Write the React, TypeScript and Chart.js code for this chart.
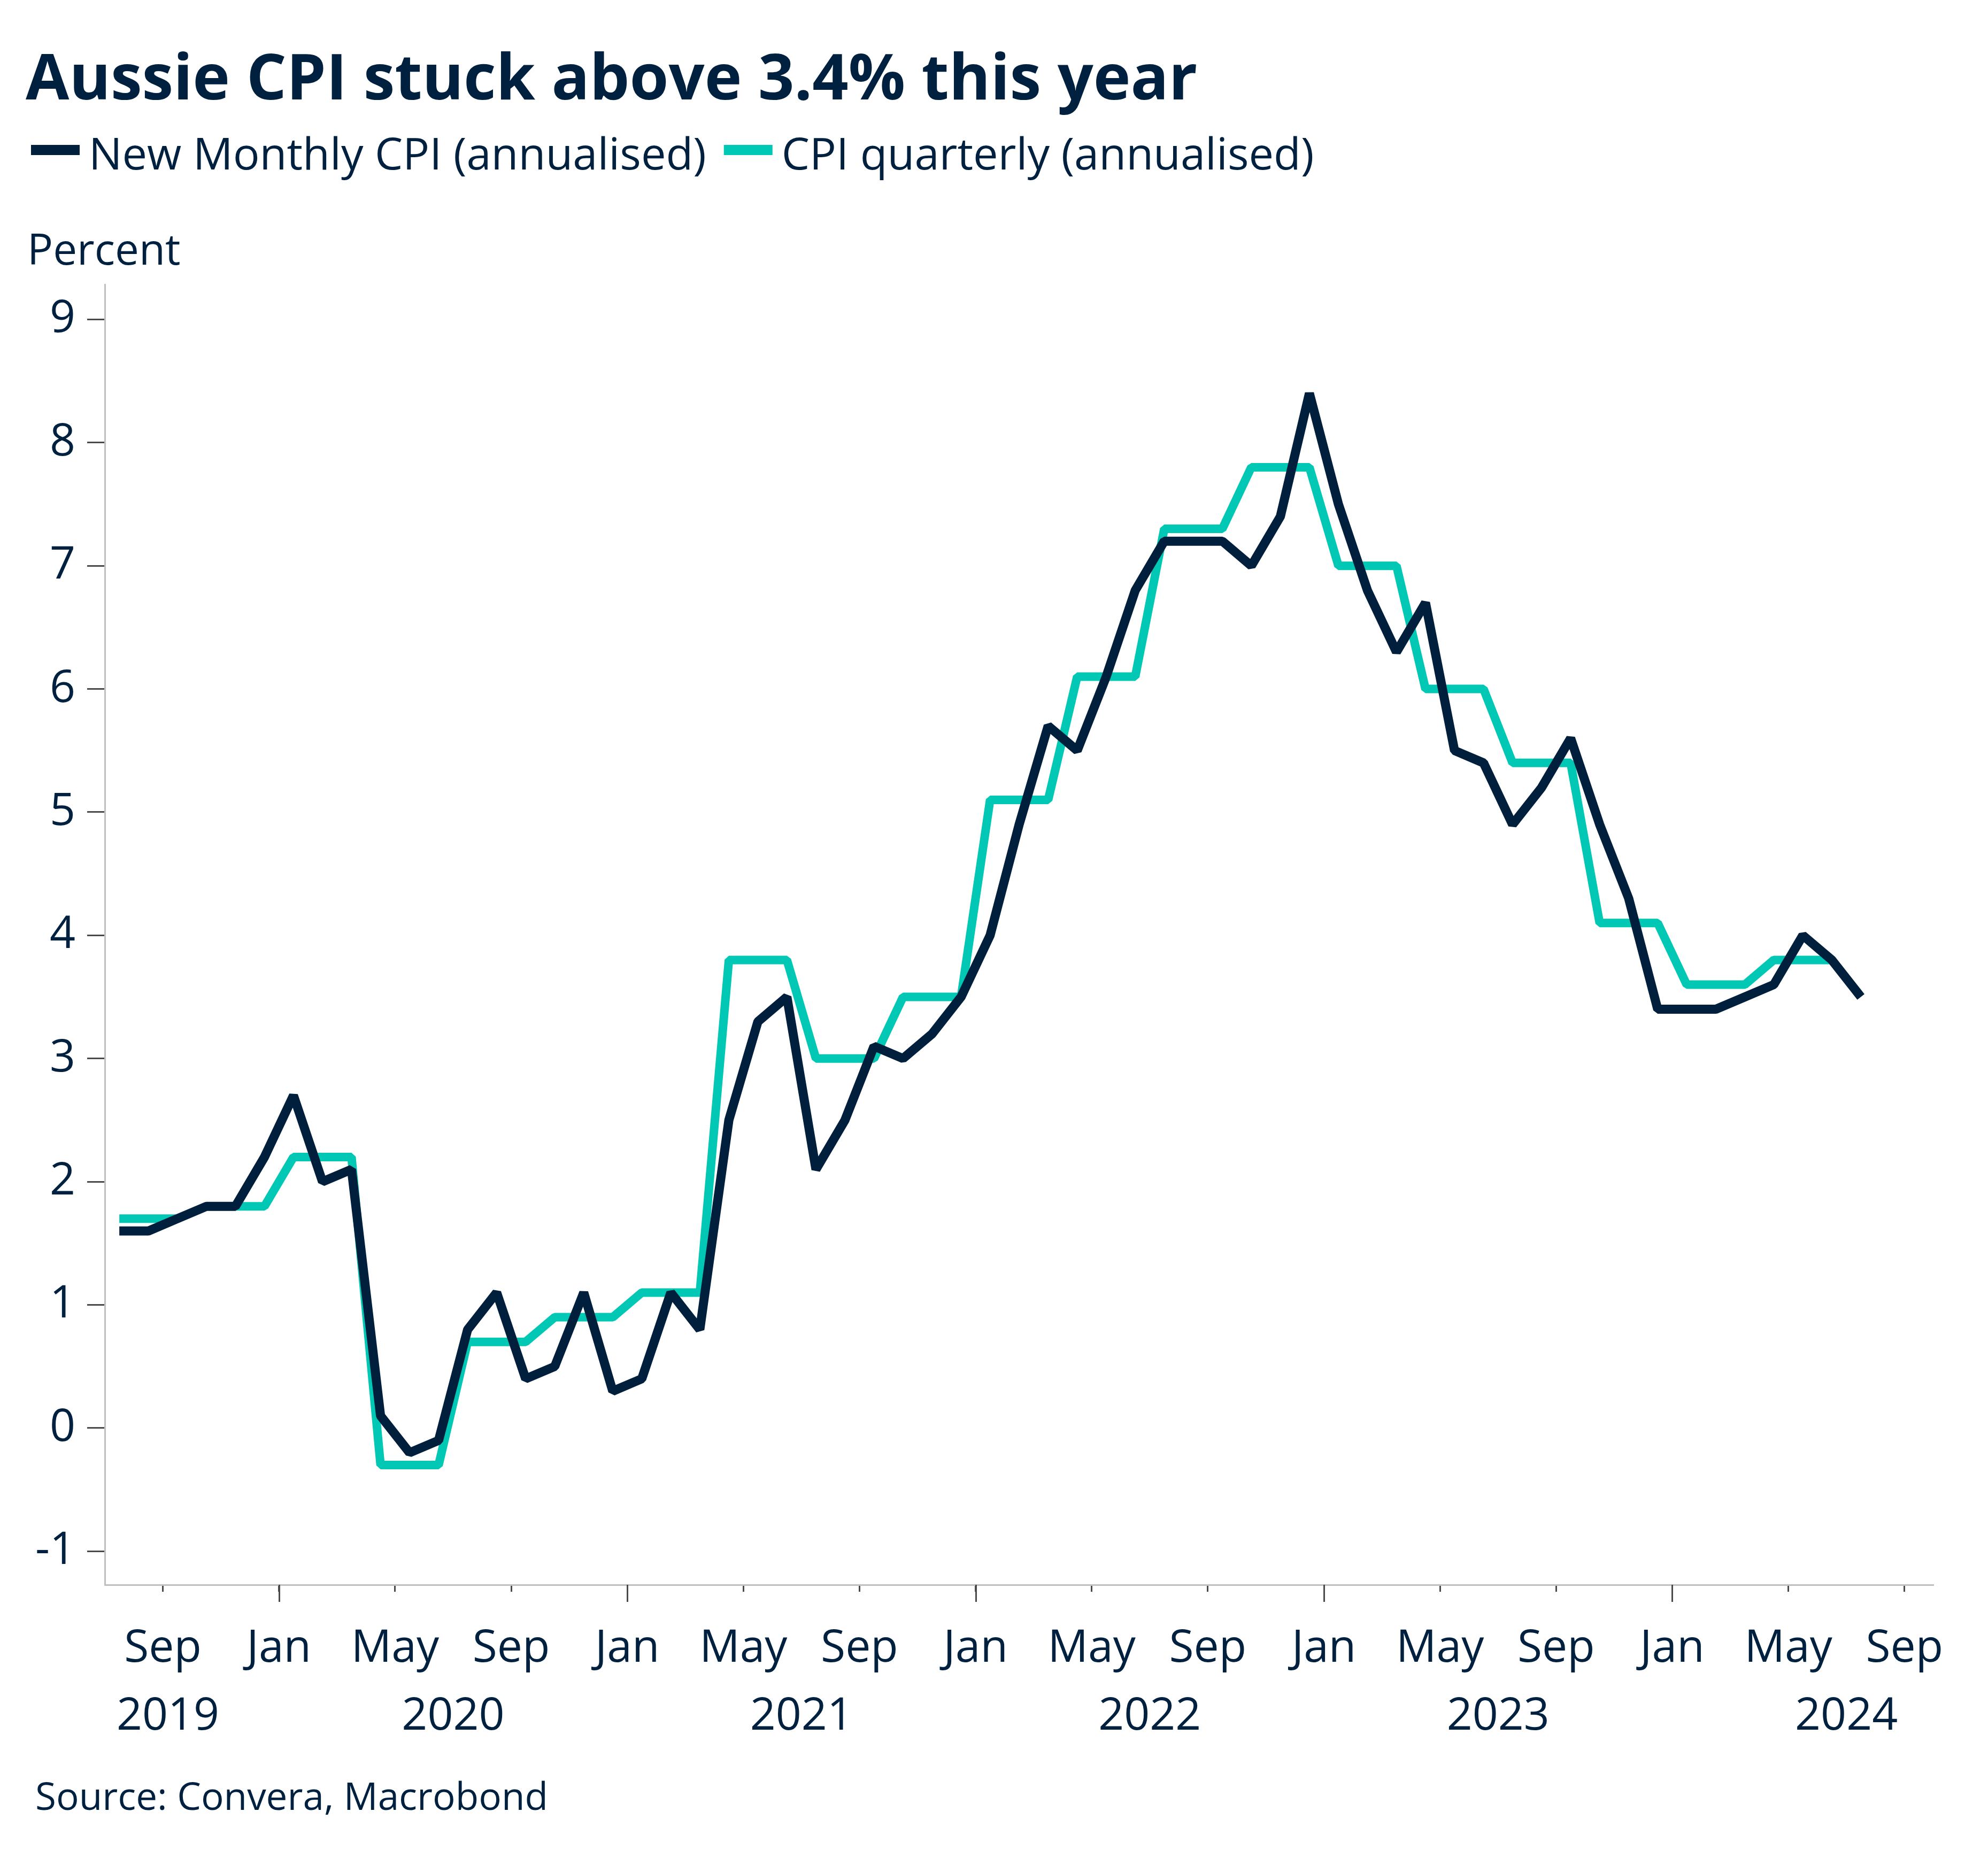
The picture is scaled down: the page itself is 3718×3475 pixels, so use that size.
import React, { useEffect, useRef } from "react";
import { Chart, registerables } from "chart.js";

Chart.register(...registerables);

// ---------- text ----------
const TITLE = "Aussie CPI stuck above 3.4% this year";
const SERIES_NAMES = ["New Monthly CPI (annualised)", "CPI quarterly (annualised)"];
const Y_AXIS_TITLE = "Percent";
const SOURCE = "Source: Convera, Macrobond";

// ---------- data ----------
const FIRST_MONTH = "2019-07"; // first observation of both series (monthly)

// New Monthly CPI (annualised), Jul 2019 .. Jul 2024
const monthlyCPI = [
  1.6, 1.6, 1.7, 1.8, 1.8, 2.2, // 2019 Jul-Dec
  2.7, 2.0, 2.1, 0.1, -0.2, -0.1, 0.8, 1.1, 0.4, 0.5, 1.1, 0.3, // 2020
  0.4, 1.1, 0.8, 2.5, 3.3, 3.5, 2.1, 2.5, 3.1, 3.0, 3.2, 3.5, // 2021
  4.0, 4.9, 5.7, 5.5, 6.1, 6.8, 7.2, 7.2, 7.2, 7.0, 7.4, 8.4, // 2022
  7.5, 6.8, 6.3, 6.7, 5.5, 5.4, 4.9, 5.2, 5.6, 4.9, 4.3, 3.4, // 2023
  3.4, 3.4, 3.5, 3.6, 4.0, 3.8, 3.5, // 2024 Jan-Jul
];

// CPI quarterly (annualised), shown at monthly frequency, Jul 2019 .. Jun 2024
const quarterlyCPI = [
  1.7, 1.7, 1.7, 1.8, 1.8, 1.8, // 2019 Q3, Q4
  2.2, 2.2, 2.2, -0.3, -0.3, -0.3, 0.7, 0.7, 0.7, 0.9, 0.9, 0.9, // 2020
  1.1, 1.1, 1.1, 3.8, 3.8, 3.8, 3.0, 3.0, 3.0, 3.5, 3.5, 3.5, // 2021
  5.1, 5.1, 5.1, 6.1, 6.1, 6.1, 7.3, 7.3, 7.3, 7.8, 7.8, 7.8, // 2022
  7.0, 7.0, 7.0, 6.0, 6.0, 6.0, 5.4, 5.4, 5.4, 4.1, 4.1, 4.1, // 2023
  3.6, 3.6, 3.6, 3.8, 3.8, 3.8, // 2024 Q1, Q2
];

const X_TICK_MONTHS = [
  "2019-09", "2020-01", "2020-05", "2020-09", "2021-01", "2021-05", "2021-09",
  "2022-01", "2022-05", "2022-09", "2023-01", "2023-05", "2023-09", "2024-01",
  "2024-05", "2024-09",
];
const MONTH_NAMES = ["Jan", "Feb", "Mar", "Apr", "May", "Jun", "Jul", "Aug", "Sep", "Oct", "Nov", "Dec"];
const YEAR_LABELS = ["2019", "2020", "2021", "2022", "2023", "2024"];
const Y_TICKS = [-1, 0, 1, 2, 3, 4, 5, 6, 7, 8, 9];
const X_START = "2019-07";
const X_END = "2024-10";
const Y_MIN = -1.272;
const Y_MAX = 9.284;

// ---------- style ----------
const FONT = '"Open Sans", "Noto Sans", sans-serif';
const NAVY = "#001f3c";
const TEAL = "#00c8b4";
const TEXT = "#00203f";
const AXIS_GRAY = "#c0c0c0";
const TICK_GRAY = "#4a4a4a";
const W = 3718;
const H = 3475;

function monthIndex(s: string): number {
  const [y, m] = s.split("-").map(Number);
  return (y - 2019) * 12 + (m - 1);
}

const decorPlugin = {
  id: "decor",
  afterDraw(chart: any) {
    const ctx: CanvasRenderingContext2D = chart.ctx;
    const xs = chart.scales.x;
    const area = chart.chartArea;
    ctx.save();

    // longer tick marks at January
    ctx.strokeStyle = TICK_GRAY;
    ctx.lineWidth = 3;
    X_TICK_MONTHS.forEach((m) => {
      if (m.endsWith("-01")) {
        const px = Math.round(xs.getPixelForValue(monthIndex(m))) + 0.5;
        ctx.beginPath();
        ctx.moveTo(px, area.bottom);
        ctx.lineTo(px, area.bottom + 32);
        ctx.stroke();
      }
    });

    // year labels, centred on mid-year, kept inside the axis
    ctx.fillStyle = TEXT;
    ctx.font = `84px ${FONT}`;
    ctx.textAlign = "center";
    ctx.textBaseline = "alphabetic";
    YEAR_LABELS.forEach((y) => {
      const half = ctx.measureText(y).width / 2;
      let px = xs.getPixelForValue(monthIndex(`${y}-07`));
      px = Math.max(px, area.left + 22 + half);
      px = Math.min(px, area.right - 22 - half);
      ctx.fillText(y, px, 3235);
    });

    ctx.textAlign = "left";
    // title
    ctx.font = `bold 118px ${FONT}`;
    ctx.fillText(TITLE, 48, 186);

    // legend
    ctx.font = `83px ${FONT}`;
    const colors = [NAVY, TEAL];
    let lx = 58;
    SERIES_NAMES.forEach((name, i) => {
      ctx.fillStyle = colors[i];
      ctx.fillRect(lx, 271, 91, 19);
      ctx.fillStyle = TEXT;
      const tx = lx + 91 + 17;
      ctx.fillText(name, tx, 317);
      lx = tx + ctx.measureText(name).width + 33;
    });

    // axis title
    ctx.font = `80px ${FONT}`;
    ctx.fillText(Y_AXIS_TITLE, 51, 495);

    // source
    ctx.font = `71px ${FONT}`;
    ctx.fillText(SOURCE, 66, 3385);

    ctx.restore();
  },
};

export default function App() {
  const ref = useRef<HTMLCanvasElement>(null);

  useEffect(() => {
    document.body.style.margin = "0";
    const canvas = ref.current!;
    const start = monthIndex(FIRST_MONTH);
    const chart = new Chart(canvas, {
      type: "line",
      data: {
        datasets: [
          {
            label: SERIES_NAMES[0],
            data: monthlyCPI.map((v, i) => ({ x: start + i + 0.5, y: v })),
            borderColor: NAVY,
            backgroundColor: NAVY,
            borderWidth: 17,
          },
          {
            label: SERIES_NAMES[1],
            data: quarterlyCPI.map((v, i) => ({ x: start + i + 0.5, y: v })),
            borderColor: TEAL,
            backgroundColor: TEAL,
            borderWidth: 16,
          },
        ],
      },
      options: {
        responsive: false,
        animation: false,
        devicePixelRatio: 1,
        layout: { padding: { top: 532, right: W - 3616, bottom: 211, left: 0 } },
        elements: {
          point: { radius: 0, hoverRadius: 0 },
          line: { tension: 0, borderJoinStyle: "bevel", borderCapStyle: "butt", fill: false },
        },
        plugins: {
          legend: { display: false },
          title: { display: false },
          tooltip: { enabled: false },
        },
        scales: {
          x: {
            type: "linear",
            min: monthIndex(X_START),
            max: monthIndex(X_END),
            afterBuildTicks: (scale: any) => {
              scale.ticks = X_TICK_MONTHS.map((m) => ({ value: monthIndex(m) }));
            },
            afterFit: (scale: any) => {
              scale.height = 300;
            },
            ticks: {
              autoSkip: false,
              maxRotation: 0,
              minRotation: 0,
              padding: 57,
              color: TEXT,
              font: { family: FONT, size: 84 },
              callback: (value: any) => MONTH_NAMES[((Number(value) % 12) + 12) % 12],
            },
            grid: {
              display: true,
              drawOnChartArea: false,
              drawTicks: true,
              tickLength: 13,
              tickWidth: 3,
              tickColor: TICK_GRAY,
            },
            border: { display: true, color: AXIS_GRAY, width: 3 },
          },
          y: {
            type: "linear",
            min: Y_MIN,
            max: Y_MAX,
            afterBuildTicks: (scale: any) => {
              scale.ticks = Y_TICKS.map((v) => ({ value: v }));
            },
            afterFit: (scale: any) => {
              scale.width = 196;
            },
            ticks: {
              padding: 22,
              color: TEXT,
              font: { family: FONT, size: 84 },
              callback: (value: any) => String(value),
            },
            grid: {
              display: true,
              drawOnChartArea: false,
              drawTicks: true,
              tickLength: 33,
              tickWidth: 3,
              tickColor: TICK_GRAY,
            },
            border: { display: true, color: AXIS_GRAY, width: 3 },
          },
        },
      },
      plugins: [decorPlugin],
    } as any);
    return () => chart.destroy();
  }, []);

  return (
    <canvas
      ref={ref}
      width={W}
      height={H}
      style={{ display: "block", width: W, height: H, background: "#ffffff" }}
    />
  );
}
